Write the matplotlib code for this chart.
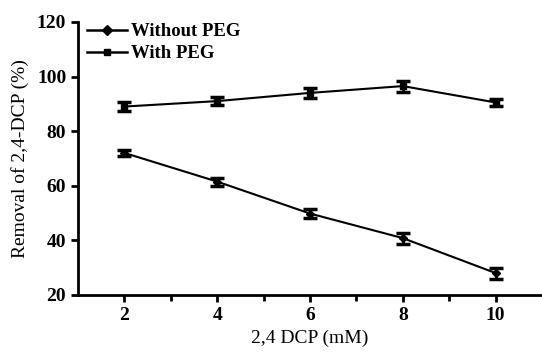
import matplotlib
matplotlib.use("Agg")
import matplotlib.pyplot as plt
from matplotlib.lines import Line2D

x = [2, 4, 6, 8, 10]
without_peg = [72, 61.5, 49.8, 40.8, 28]
without_err = [1.0, 1.5, 1.8, 2.0, 2.0]
with_peg = [89, 91, 94, 96.5, 90.5]
with_err = [1.5, 1.5, 1.8, 2.0, 1.2]

plt.rcParams['font.family'] = ['Liberation Serif', 'DejaVu Serif']

fig = plt.figure(figsize=(5.42, 3.54), dpi=100)
ax = fig.add_axes([0.144, 0.167, 0.856, 0.771])

ax.errorbar(x, without_peg, yerr=without_err, color='black', marker='D', markersize=4,
            lw=1.5, capsize=5, capthick=2.5, elinewidth=2)
ax.errorbar(x, with_peg, yerr=with_err, color='black', marker='s', markersize=4,
            lw=1.5, capsize=5, capthick=2.5, elinewidth=2)

ax.set_xlim(1, 11)
ax.set_ylim(20, 120)
ax.set_xticks([2, 4, 6, 8, 10])
ax.set_xticks([3, 5, 7, 9], minor=True)
ax.set_yticks([20, 40, 60, 80, 100, 120])
for s in ['top', 'right']:
    ax.spines[s].set_visible(False)
for s in ['left', 'bottom']:
    ax.spines[s].set_linewidth(2)
ax.tick_params(axis='both', which='major', direction='out', width=2, length=5, labelsize=14)
ax.tick_params(axis='x', which='minor', direction='out', width=2, length=4)
for lab in ax.get_xticklabels() + ax.get_yticklabels():
    lab.set_fontweight('bold')

ax.set_xlabel('2,4 DCP (mM)', fontsize=14, labelpad=4)
ax.set_ylabel('Removal of 2,4-DCP (%)', fontsize=14, labelpad=6)

handles = [Line2D([], [], color='black', marker='D', markersize=5, lw=1.8),
           Line2D([], [], color='black', marker='s', markersize=5, lw=1.8)]
ax.legend(handles, ['Without PEG', 'With PEG'], loc='upper left', frameon=False,
          prop={'size': 13.5, 'weight': 'bold'}, handlelength=2.1, handletextpad=0.2,
          borderaxespad=0.0, bbox_to_anchor=(0.004, 1.023), labelspacing=0.25)

fig.savefig('out.png', dpi=100)
